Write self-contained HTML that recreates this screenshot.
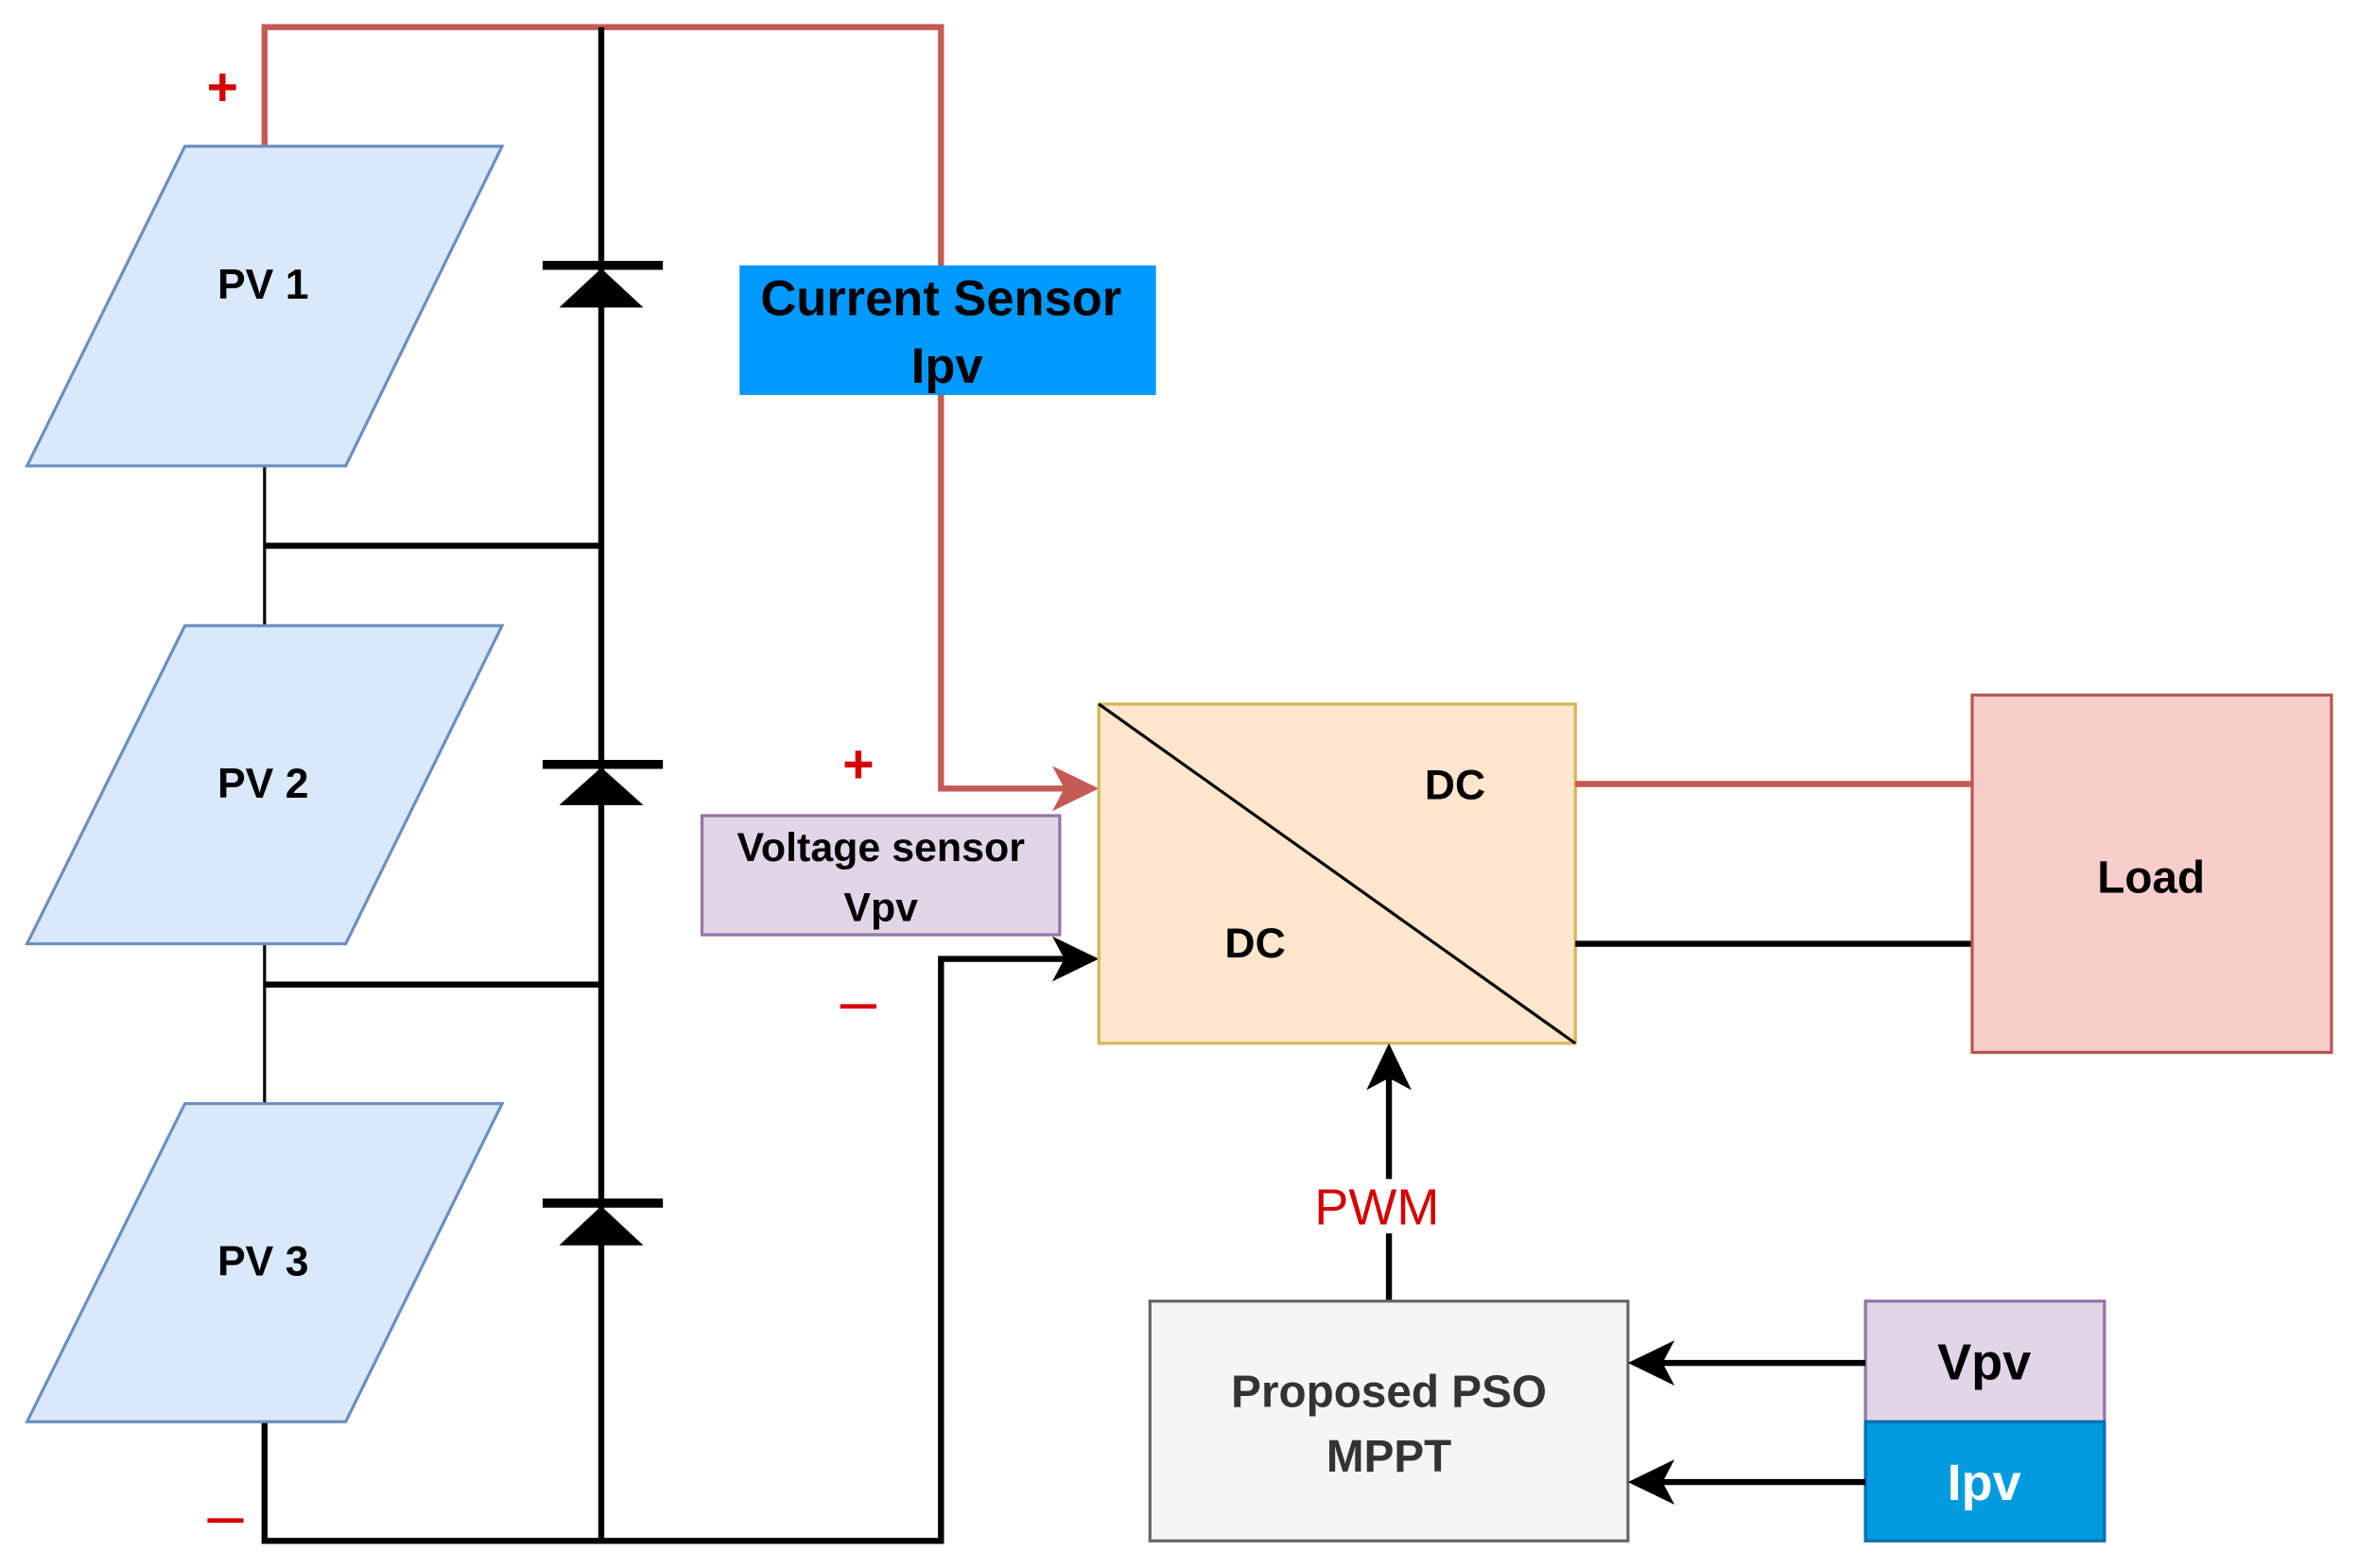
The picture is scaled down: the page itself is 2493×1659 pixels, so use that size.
<!DOCTYPE html>
<html><head><meta charset="utf-8"><style>html,body{margin:0;padding:0;background:#fff;overflow:hidden}svg{display:block}</style></head>
<body>
<svg width="2493" height="1659" viewBox="0 0 1568 1040" preserveAspectRatio="none" xmlns="http://www.w3.org/2000/svg" font-family="Liberation Sans, Arial, sans-serif">
<rect width="1568" height="1040" fill="#fff"/>
<polyline points="176,97 176,18 626,18 626,523 712,523" fill="none" stroke="#c55a55" stroke-width="4"/>
<polygon points="731,523 700,508 708,523 700,538" fill="#c55a55"/>
<line x1="400" y1="18" x2="400" y2="1022" stroke="#000" stroke-width="4"/>
<g fill="#000" stroke="#000">
<line x1="361" y1="176" x2="441" y2="176" stroke-width="6"/><polygon points="400,178 372,204 428,204" stroke="none"/>
<line x1="361" y1="507" x2="441" y2="507" stroke-width="6"/><polygon points="400,509 372,534 428,534" stroke="none"/>
<line x1="361" y1="798" x2="441" y2="798" stroke-width="6"/><polygon points="400,800 372,826 428,826" stroke="none"/>
</g>
<line x1="176" y1="309" x2="176" y2="415" stroke="#000" stroke-width="2"/>
<line x1="176" y1="626" x2="176" y2="732" stroke="#000" stroke-width="2"/>
<line x1="176" y1="362" x2="400" y2="362" stroke="#000" stroke-width="4"/>
<line x1="176" y1="653" x2="400" y2="653" stroke="#000" stroke-width="4"/>
<polyline points="176,943 176,1022 626,1022 626,636 712,636" fill="none" stroke="#000" stroke-width="4"/>
<polygon points="731,636 700,621 708,636 700,651" fill="#000"/>
<g fill="#dae8fc" stroke="#6c8ebf" stroke-width="2">
<polygon points="123,97 334,97 230,309 18,309"/>
<polygon points="123,415 334,415 230,626 18,626"/>
<polygon points="123,732 334,732 230,943 18,943"/>
</g>
<g font-weight="bold" font-size="28" text-anchor="middle" fill="#000">
<text x="175" y="198">PV 1</text>
<text x="175" y="529">PV 2</text>
<text x="175" y="846">PV 3</text>
</g>
<g fill="#d40000" font-size="36" text-anchor="middle" font-weight="bold">
<text x="148" y="70">+</text>
<text x="571" y="519">+</text>
<rect x="138" y="1007" width="24" height="3" fill="#d40000"/>
<rect x="559" y="666" width="24" height="3" fill="#d40000"/>
</g>
<rect x="492" y="176" width="277" height="86" fill="#0099ff"/>
<g font-weight="bold" font-size="33" text-anchor="middle" fill="#000">
<text x="626" y="209">Current Sensor</text>
<text x="630" y="254">Ipv</text>
</g>
<rect x="467" y="541" width="238" height="79" fill="#e1d5e7" stroke="#9673a6" stroke-width="2"/>
<g font-weight="bold" font-size="27" text-anchor="middle" fill="#000">
<text x="586" y="571">Voltage sensor</text>
<text x="586" y="611">Vpv</text>
</g>
<rect x="731" y="467" width="317" height="225" fill="#ffe6cc" stroke="#d6b656" stroke-width="2"/>
<line x1="731" y1="467" x2="1048" y2="692" stroke="#000" stroke-width="2"/>
<g font-weight="bold" font-size="28" text-anchor="middle" fill="#000">
<text x="968" y="530">DC</text>
<text x="835" y="635">DC</text>
</g>
<line x1="1048" y1="520" x2="1312" y2="520" stroke="#c55a55" stroke-width="4"/>
<line x1="1048" y1="626" x2="1312" y2="626" stroke="#000" stroke-width="4"/>
<rect x="1312" y="461" width="239" height="237" fill="#f8cecc" stroke="#b85450" stroke-width="2"/>
<text x="1431" y="592" font-weight="bold" font-size="30" text-anchor="middle" fill="#000">Load</text>
<line x1="924" y1="863" x2="924" y2="712" stroke="#000" stroke-width="4"/>
<polygon points="924,692 909,723 924,715 939,723" fill="#000"/>
<rect x="872" y="782" width="92" height="36" fill="#fff"/>
<text x="916" y="812" font-size="34" text-anchor="middle" fill="#d40000">PWM</text>
<rect x="765" y="863" width="318" height="159" fill="#f5f5f5" stroke="#666" stroke-width="2"/>
<g font-weight="bold" font-size="30" text-anchor="middle" fill="#333">
<text x="924" y="933">Proposed PSO</text>
<text x="924" y="976">MPPT</text>
</g>
<rect x="1241" y="863" width="159" height="80" fill="#e1d5e7" stroke="#9673a6" stroke-width="2"/>
<rect x="1241" y="943" width="159" height="79" fill="#009ade" stroke="#006eaf" stroke-width="2"/>
<text x="1320" y="915" font-weight="bold" font-size="34" text-anchor="middle" fill="#000">Vpv</text>
<text x="1320" y="995" font-weight="bold" font-size="34" text-anchor="middle" fill="#fff">Ipv</text>
<line x1="1241" y1="904" x2="1102" y2="904" stroke="#000" stroke-width="4"/>
<polygon points="1083,904 1114,889 1106,904 1114,919" fill="#000"/>
<line x1="1241" y1="983" x2="1102" y2="983" stroke="#000" stroke-width="4"/>
<polygon points="1083,983 1114,968 1106,983 1114,998" fill="#000"/>
</svg>
</body></html>
